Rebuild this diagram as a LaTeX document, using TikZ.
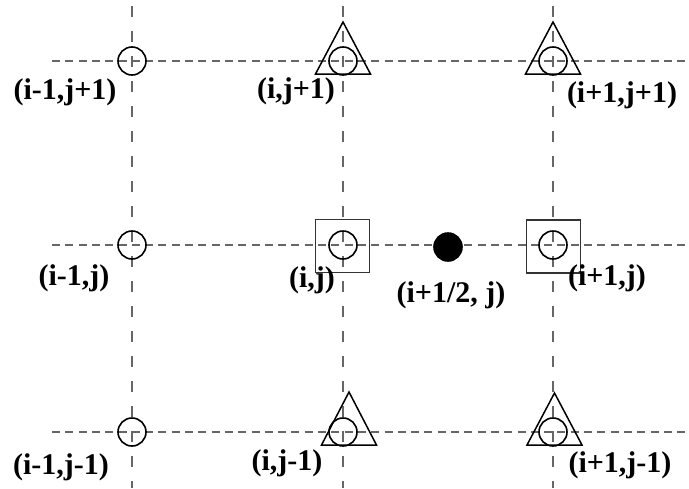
\documentclass[tikz,border=0pt]{standalone}
\usepackage{fontspec}
\setmainfont{Liberation Serif}
\usepackage{tikz}

\begin{document}
\begin{tikzpicture}[x=1pt,y=-1pt,
        hgrid/.style={dash pattern=on 8pt off 5.3pt, line width=1.3pt, black!60},
        vgrid/.style={dash pattern=on 11pt off 14pt, line width=1.3pt, black!60},
        gpoint/.style={circle, draw, line width=1.6pt, minimum size=28pt, inner sep=0pt},
        tri/.style={line width=1.5pt, line join=miter},
        sqbox/.style={draw, line width=1.2pt, black!80, minimum width=54pt, minimum height=53pt, inner sep=0pt},
        lbl/.style={font=\fontsize{30}{31}\selectfont\bfseries, inner sep=0pt}]
        \useasboundingbox (0,0) rectangle (689,488);
        % grid lines
        \foreach \y in {61,245,432}
            \draw[hgrid] (52,\y) -- (686,\y);
        \foreach \x in {132,343,553}
            \draw[vgrid] (\x,6) -- (\x,488);
        % grid points
        \foreach \x/\i in {132/a,343/b,553/c}{
            \foreach \y/\j in {61/1,245/2,432/3}{
                \node[gpoint] (p\i\j) at (\x,\y) {};
            }
        }
        \node[gpoint, fill=black] (phalf) at (448,247) {};
        % boxes and triangles
        \node[sqbox] (boxb) at (342.5,246) {};
        \node[sqbox] (boxc) at (553.5,246.5) {};
        \foreach \x/\ya/\yb in {343/22/74, 553/22/74, 349/392/445, 554.5/393/445}
            \draw[tri] (\x-27.5,\yb) -- (\x,\ya) -- (\x+27.5,\yb) -- cycle;
        % labels
        \node[lbl] (la1) at (65,92) {(i-1,j+1)};
        \node[lbl] (lb1) at (296,91) {(i,j+1)};
        \node[lbl] (lc1) at (622,95) {(i+1,j+1)};
        \node[lbl] (la2) at (74,278) {(i-1,j)};
        \node[lbl] (lb2) at (312,280) {(i,j)};
        \node[lbl] (lhalf) at (451,295) {(i+1/2, j)};
        \node[lbl] (lc2) at (607,278) {(i+1,j)};
        \node[lbl] (la3) at (61,467) {(i-1,j-1)};
        \node[lbl] (lb3) at (287,463) {(i,j-1)};
        \node[lbl] (lc3) at (620,465) {(i+1,j-1)};
\end{tikzpicture}
\end{document}
